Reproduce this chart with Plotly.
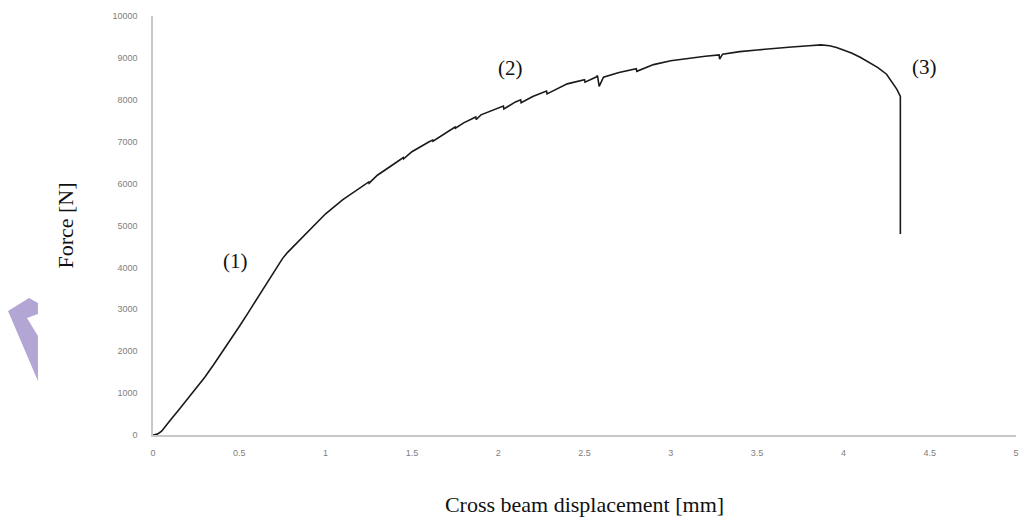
import plotly.graph_objects as go

# Cross beam displacement [mm]
displacement = [
    0.0, 0.025, 0.05, 0.075, 0.10, 0.15, 0.20, 0.25, 0.30, 0.35, 0.40, 0.45,
    0.50, 0.55, 0.60, 0.65, 0.70, 0.73, 0.75, 0.78, 0.82, 0.90, 1.00, 1.10,
    1.18, 1.250, 1.252, 1.30, 1.40, 1.450, 1.452, 1.50, 1.60, 1.620, 1.622,
    1.70, 1.750, 1.752, 1.80,
    1.870, 1.873, 1.90, 2.00, 2.030, 2.033, 2.10, 2.130, 2.133, 2.20,
    2.280, 2.283, 2.40, 2.500, 2.503, 2.570, 2.575, 2.585, 2.61, 2.70,
    2.800, 2.803, 2.90, 3.00, 3.10, 3.20, 3.280, 3.283, 3.30, 3.40, 3.50,
    3.60, 3.70, 3.80, 3.87, 3.92, 3.96, 4.00, 4.05, 4.10, 4.15, 4.20,
    4.25, 4.29, 4.31, 4.33, 4.33,
]
# Force [N]
force = [
    0, 20, 90, 210, 350, 600, 860, 1120, 1380, 1670, 1970, 2280,
    2590, 2910, 3240, 3570, 3890, 4080, 4210, 4360, 4530, 4850, 5280, 5620,
    5850, 6040, 6010, 6200, 6480, 6620, 6590, 6760, 7000, 7040, 7010,
    7230, 7350, 7320, 7450,
    7590, 7530, 7640, 7800, 7850, 7780, 7950, 8000, 7930, 8080,
    8210, 8140, 8380, 8480, 8420, 8550, 8580, 8320, 8540, 8650,
    8740, 8680, 8840, 8930, 8990, 9040, 9070, 8970, 9090, 9150, 9190,
    9230, 9260, 9290, 9310, 9290, 9250, 9190, 9110, 9010, 8900, 8770,
    8610, 8370, 8250, 8080, 4800,
]

x_ticks = [0, 0.5, 1, 1.5, 2, 2.5, 3, 3.5, 4, 4.5, 5]
x_tick_labels = ["0", "0.5", "1", "1.5", "2", "2.5", "3", "3.5", "4", "4.5", "5"]
y_ticks = list(range(0, 10001, 1000))
y_tick_labels = [str(v) for v in y_ticks]

stage_labels = ["(1)", "(2)", "(3)"]
stage_x = [0.48, 2.07, 4.47]
stage_y = [4150, 8760, 8780]

fig = go.Figure()
fig.add_trace(go.Scatter(
    x=displacement, y=force, mode="lines",
    line=dict(color="#1a1a1a", width=1.6),
    showlegend=False, hoverinfo="skip",
))

for t, xv, yv in zip(stage_labels, stage_x, stage_y):
    fig.add_annotation(x=xv, y=yv, text=t, showarrow=False,
                       font=dict(family="Liberation Serif", size=21, color="#111"))

FW, FH = 1021, 526
L, T, W, H = 153, 16, 863, 419

# purple watermark fragment at left edge (page pixel -> paper conversion)
def px(p):
    return (p[0] - L) / W, (T + H - p[1]) / H
poly = [(8, 311), (29, 298), (38, 303), (38, 314), (27, 318), (38, 336), (38, 381)]
pts = [px(p) for p in poly]
path = "M " + " L ".join(f"{a:.4f},{b:.4f}" for a, b in pts) + " Z"
fig.add_shape(type="path", path=path, xref="paper", yref="paper",
              fillcolor="#b3a6d4", line=dict(width=0), layer="above")

fig.update_layout(
    width=FW, height=FH,
    margin=dict(l=L, r=FW - L - W, t=T, b=FH - T - H, autoexpand=False),
    paper_bgcolor="white", plot_bgcolor="white",
    font=dict(family="Liberation Sans"),
)
fig.update_xaxes(
    range=[0, 5], tickvals=x_ticks, ticktext=x_tick_labels, automargin=False,
    showgrid=False, zeroline=False, showline=True, linecolor="#c8c8c8", linewidth=1.5,
    ticks="", ticklen=0, ticklabelstandoff=8, ticklabeloverflow="allow",
    tickfont=dict(family="Liberation Sans", size=9, color="#808080"),
    title=dict(text="Cross beam displacement [mm]", standoff=40,
               font=dict(family="Liberation Serif", size=22, color="#111")),
)
fig.update_yaxes(
    range=[0, 10000], tickvals=y_ticks, ticktext=y_tick_labels, automargin=False,
    showgrid=False, zeroline=False, showline=True, linecolor="#c8c8c8", linewidth=1.5,
    ticks="", ticklen=0, ticklabelstandoff=12, ticklabeloverflow="allow",
    tickfont=dict(family="Liberation Sans", size=9, color="#808080"),
    title=dict(text="Force [N]", standoff=33,
               font=dict(family="Liberation Serif", size=22, color="#111")),
)

fig.write_html(
    "out.html",
    config={"displayModeBar": False},
    post_script="document.body.style.margin='0';document.body.style.overflow='hidden';",
)
